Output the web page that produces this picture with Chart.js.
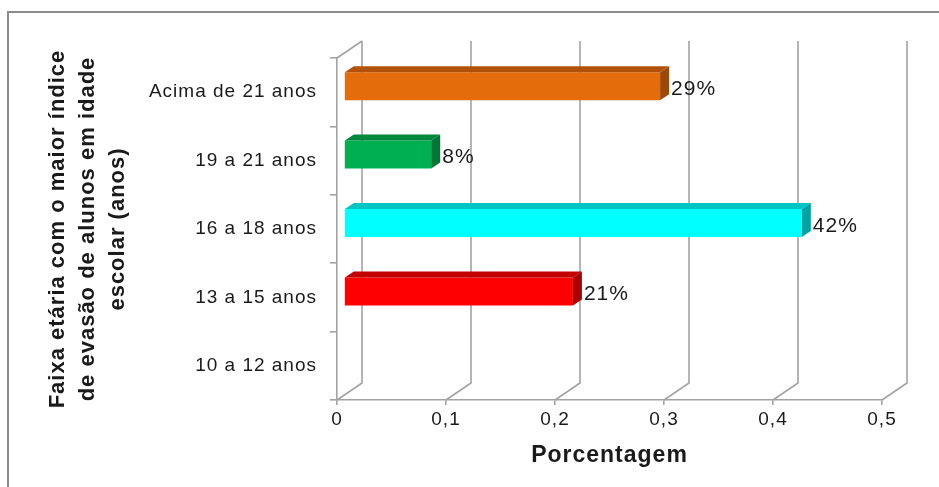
<!DOCTYPE html>
<html>
<head>
<meta charset="utf-8">
<script src="https://cdn.jsdelivr.net/npm/chart.js@4.4.1/dist/chart.umd.min.js"></script>
<style>
html, body { margin: 0; padding: 0; background: #fff; }
#wrap { position: relative; width: 939px; height: 487px; overflow: hidden; }
#frame { position: absolute; left: 7px; top: 11px; width: 1000px; height: 600px;
         border-top: 2px solid #8c8c8c; border-left: 2px solid #8c8c8c; }
canvas { position: absolute; left: 0; top: 0; }
</style>
</head>
<body>
<div id="wrap">
  <div id="frame"></div>
  <canvas id="chart" width="939" height="487"></canvas>
</div>
<script>
// data
const categories = ['Acima de 21 anos', '19 a 21 anos', '16 a 18 anos', '13 a 15 anos', '10 a 12 anos'];
const values = [0.29, 0.08, 0.42, 0.21, 0];
const valueLabels = ['29%', '8%', '42%', '21%', ''];
const xTickValues = [0, 0.1, 0.2, 0.3, 0.4, 0.5];
const xTickLabels = ['0', '0,1', '0,2', '0,3', '0,4', '0,5'];

// colours: front / top / side face of each bar
const frontColors = ['#E46C0A', '#00B050', '#00FFFF', '#FF0000', '#888888'];
const topColors = ['#B25208', '#00883D', '#00C4C4', '#C20000', '#666666'];
const sideColors = ['#9C4808', '#007535', '#00A3A3', '#A80000', '#555555'];

const gridColor = '#a3a3a3';
const textColor = '#1a1a1a';
const FONT = "'Liberation Sans', Arial, sans-serif";
const SPACING = '1px'; // the original text is drawn a bit wide

// depth of the 3D box and of the bars
const WALL_DX = 25, WALL_DY = 17;
const BAR_SHIFT_X = 7, BAR_SHIFT_Y = 6;
const BAR_DX = 9, BAR_DY = 6;

function poly(ctx, pts, color) {
    ctx.fillStyle = color;
    ctx.beginPath();
    ctx.moveTo(pts[0][0], pts[0][1]);
    for (let i = 1; i < pts.length; i++) ctx.lineTo(pts[i][0], pts[i][1]);
    ctx.closePath();
    ctx.fill();
}

const box3d = {
    id: 'box3d',
    beforeDraw(chart) {
        chart.ctx.letterSpacing = SPACING;
    },
    beforeDatasetsDraw(chart) {
        const { ctx, chartArea: a, scales: { x } } = chart;
        ctx.save();
        ctx.strokeStyle = gridColor;
        ctx.lineWidth = 1.6;
        ctx.beginPath();
        x.ticks.forEach(t => {
            const fx = x.getPixelForValue(t.value);
            ctx.moveTo(fx, a.bottom);
            ctx.lineTo(fx + WALL_DX, a.bottom - WALL_DY);
            ctx.lineTo(fx + WALL_DX, a.top - WALL_DY);
        });
        ctx.moveTo(a.left, a.top);
        ctx.lineTo(a.left + WALL_DX, a.top - WALL_DY);
        ctx.stroke();
        ctx.restore();

        // bars sit a little inside the box
        ctx.save();
        ctx.translate(BAR_SHIFT_X, -BAR_SHIFT_Y);
    },
    afterDatasetsDraw(chart) {
        const ctx = chart.ctx;
        const bars = chart.getDatasetMeta(0).data;
        bars.forEach((bar, i) => {
            if (!values[i]) return;
            const x0 = bar.base, x1 = bar.x;
            const t = bar.y - bar.height / 2, b = bar.y + bar.height / 2;
            poly(ctx, [[x0, t], [x0 + BAR_DX, t - BAR_DY], [x1 + BAR_DX, t - BAR_DY], [x1, t]], topColors[i]);
            poly(ctx, [[x1, t], [x1 + BAR_DX, t - BAR_DY], [x1 + BAR_DX, b - BAR_DY], [x1, b]], sideColors[i]);
        });
        ctx.restore();

        // value labels
        ctx.save();
        ctx.letterSpacing = SPACING;
        ctx.font = '21px ' + FONT;
        ctx.fillStyle = textColor;
        ctx.textBaseline = 'middle';
        ctx.textAlign = 'left';
        bars.forEach((bar, i) => {
            if (!valueLabels[i]) return;
            ctx.fillText(valueLabels[i], bar.x + BAR_SHIFT_X + BAR_DX + 2, bar.y - 3);
        });
        ctx.restore();
    }
};

new Chart(document.getElementById('chart'), {
    type: 'bar',
    data: {
        labels: categories,
        datasets: [{
            data: values,
            backgroundColor: frontColors,
            borderWidth: 0,
            categoryPercentage: 1,
            barPercentage: 0.41
        }]
    },
    options: {
        indexAxis: 'y',
        responsive: false,
        animation: false,
        layout: { padding: { top: 58, right: 57, bottom: 0, left: 0 } },
        plugins: {
            legend: { display: false },
            tooltip: { enabled: false }
        },
        scales: {
            x: {
                min: 0,
                max: 0.5,
                afterBuildTicks: s => { s.ticks = xTickValues.map(v => ({ value: v })); },
                afterFit: s => { s.height = 87; },
                ticks: {
                    callback: (v, i) => xTickLabels[i],
                    color: textColor,
                    font: { family: FONT, size: 19 },
                    padding: 3,
                    maxRotation: 0
                },
                grid: {
                    drawOnChartArea: false,
                    drawTicks: true,
                    tickLength: 5,
                    color: gridColor,
                    lineWidth: 1.6
                },
                border: { display: true, color: gridColor, width: 1.6 },
                title: {
                    display: true,
                    text: 'Porcentagem',
                    color: textColor,
                    font: { family: FONT, size: 23, weight: 'bold' },
                    padding: { top: 0, bottom: 18 }
                }
            },
            y: {
                afterFit: s => { s.width = 337; },
                ticks: {
                    color: textColor,
                    font: { family: FONT, size: 19 },
                    padding: 13
                },
                grid: {
                    offset: true,
                    drawOnChartArea: false,
                    drawTicks: true,
                    tickLength: 7,
                    color: gridColor,
                    lineWidth: 1.6
                },
                border: { display: true, color: gridColor, width: 1.6 },
                title: {
                    display: true,
                    text: ['Faixa etária com o maior índice', 'de evasão de alunos em idade', 'escolar (anos)'],
                    color: textColor,
                    font: { family: FONT, size: 22, weight: 'bold', lineHeight: '30px' },
                    padding: { top: 43, bottom: 0 }
                }
            }
        }
    },
    plugins: [box3d]
});
</script>
</body>
</html>
